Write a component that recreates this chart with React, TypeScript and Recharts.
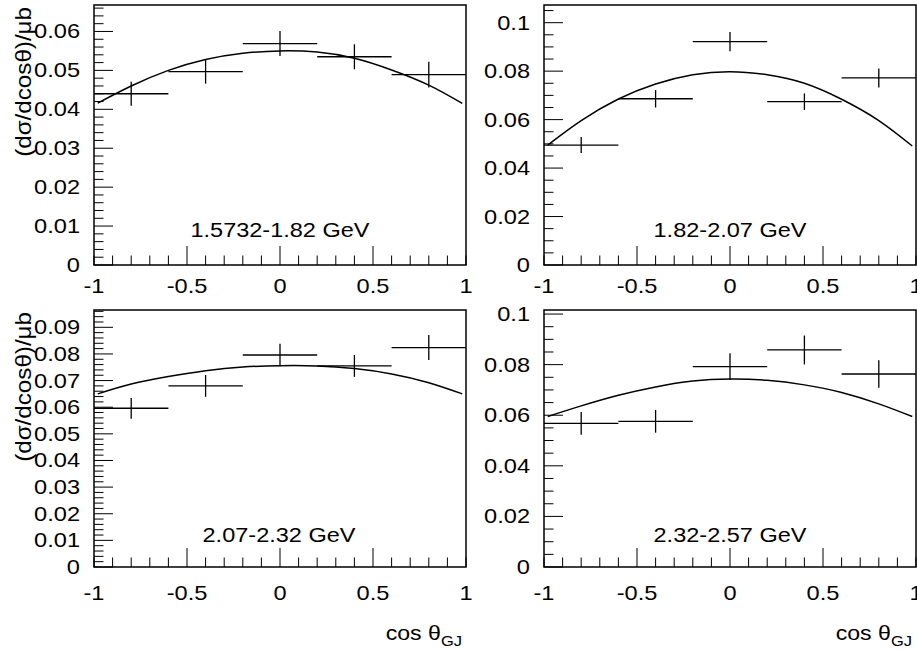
import React from "react";
import { ComposedChart, Scatter, Line, XAxis, YAxis, ErrorBar, ReferenceArea } from "recharts";

const FONT = '"Liberation Sans", Arial, Helvetica, sans-serif';

// bin centres in cos θ_GJ and half bin widths
const binX = [-0.8, -0.4, 0, 0.4, 0.8];
const binHalf = [0.2, 0.2, 0.2, 0.2, 0.2];

// measured dσ/dcosθ per energy bin (μb) and their errors
const sigmaA = [0.044, 0.0497, 0.0569, 0.0535, 0.0489];
const errA = [0.0031, 0.0031, 0.0032, 0.0032, 0.0033];
const sigmaB = [0.0495, 0.0686, 0.0922, 0.0674, 0.0772];
const errB = [0.0033, 0.0036, 0.004, 0.0034, 0.0039];
const sigmaC = [0.0596, 0.068, 0.0796, 0.0755, 0.0824];
const errC = [0.0039, 0.0041, 0.0042, 0.0041, 0.0047];
const sigmaD = [0.0568, 0.0576, 0.0792, 0.0858, 0.0763];
const errD = [0.0045, 0.0045, 0.0053, 0.0057, 0.0054];

const fitX = [-0.98, -0.8, -0.6, -0.4, -0.2, 0, 0.2, 0.4, 0.6, 0.8, 0.98];
const fitA = [0.0416, 0.046, 0.05, 0.0528, 0.0544, 0.055, 0.0547, 0.0531, 0.0501, 0.0462, 0.0415];
const fitB = [0.0495, 0.0596, 0.0685, 0.0747, 0.0785, 0.0798, 0.0785, 0.075, 0.0684, 0.0596, 0.0491];
const fitC = [0.065, 0.0687, 0.0715, 0.0737, 0.0751, 0.0756, 0.0755, 0.0745, 0.0725, 0.0692, 0.065];
const fitD = [0.0595, 0.0637, 0.0679, 0.0712, 0.0735, 0.0743, 0.0738, 0.072, 0.069, 0.0645, 0.0595];

const xMajor = [-1, -0.5, 0, 0.5, 1];
const xMajorLabels = ["-1", "-0.5", "0", "0.5", "1"];

const yMajorA = [0, 0.01, 0.02, 0.03, 0.04, 0.05, 0.06];
const yLabelsA = ["0", "0.01", "0.02", "0.03", "0.04", "0.05", "0.06"];
const yMajorB = [0, 0.02, 0.04, 0.06, 0.08, 0.1];
const yLabelsB = ["0", "0.02", "0.04", "0.06", "0.08", "0.1"];
const yMajorC = [0, 0.01, 0.02, 0.03, 0.04, 0.05, 0.06, 0.07, 0.08, 0.09];
const yLabelsC = ["0", "0.01", "0.02", "0.03", "0.04", "0.05", "0.06", "0.07", "0.08", "0.09"];

const binLabels = ["1.5732-1.82 GeV", "1.82-2.07 GeV", "2.07-2.32 GeV", "2.32-2.57 GeV"];

function steps(step: number, max: number) {
  const out: number[] = [];
  for (let i = 0; i * step <= max + 1e-9; i++) out.push(Math.round(i * step * 1e6) / 1e6);
  return out;
}

function pts(sigma: number[], err: number[]) {
  return binX.map((x, i) => ({ x, y: sigma[i], ex: binHalf[i], ey: err[i] }));
}

function curve(vals: number[]) {
  return fitX.map((x, i) => ({ x, y: vals[i] }));
}

function labelFor(v: number, majors: number[], labels: string[]) {
  const i = majors.findIndex((m) => Math.abs(m - v) < 1e-7);
  return i < 0 ? null : labels[i];
}

function Txt({ x, y, size, anchor, sx = 1.18, rotate = false, children }: any) {
  return (
    <text
      transform={`translate(${x},${y})${rotate ? " rotate(-90)" : ""} scale(${sx},1)`}
      textAnchor={anchor}
      fontSize={size}
      fontFamily={FONT}
      fill="#000"
    >
      {children}
    </text>
  );
}

function Panel({ left, top, width, height, right, plotTop, axisH, yMax, yMajor, yLabels, minorStep, data, fit, labelDy }: any) {
  const xTicks = steps(0.1, 2).map((v) => Math.round((v - 1) * 10) / 10);
  const yTicks = steps(minorStep, yMax);

  const XTick = (p: any) => {
    const { x, y, payload } = p;
    const lab = labelFor(payload.value, xMajor, xMajorLabels);
    const len = lab !== null && payload.value > -1 && payload.value < 1 ? 19 : 9.5;
    return (
      <g>
        <line x1={x} y1={y} x2={x} y2={y - len} stroke="#000" strokeWidth={1} />
        {lab !== null && <Txt x={x} y={y + labelDy} size={20} anchor="middle">{lab}</Txt>}
      </g>
    );
  };

  const YTick = (p: any) => {
    const { x, y, payload } = p;
    const lab = labelFor(payload.value, yMajor, yLabels);
    const len = lab !== null ? 19 : 9.5;
    return (
      <g>
        <line x1={x} y1={y} x2={x + len} y2={y} stroke="#000" strokeWidth={1} />
        {lab !== null && <Txt x={x - 14} y={y + 7} size={20} anchor="end">{lab}</Txt>}
      </g>
    );
  };

  return (
    <div style={{ position: "absolute", left, top }}>
      <ComposedChart width={width} height={height} margin={{ left: 0, right, top: plotTop, bottom: 0 }}>
        <XAxis
          type="number"
          dataKey="x"
          domain={[-1, 1]}
          allowDataOverflow
          ticks={xTicks}
          interval={0}
          tick={XTick}
          tickLine={false}
          axisLine={false}
          tickSize={0}
          tickMargin={0}
          height={axisH}
        />
        <YAxis
          type="number"
          dataKey="y"
          domain={[0, yMax]}
          allowDataOverflow
          ticks={yTicks}
          interval={0}
          tick={YTick}
          tickLine={false}
          axisLine={false}
          tickSize={0}
          tickMargin={0}
          width={94}
        />
        <Line
          data={fit}
          dataKey="y"
          type="natural"
          dot={false}
          stroke="#000"
          strokeWidth={1.5}
          isAnimationActive={false}
        />
        <Scatter data={data} dataKey="y" shape={() => <g />} isAnimationActive={false}>
          <ErrorBar dataKey="ey" direction="y" width={0} stroke="#000" strokeWidth={1.3} isAnimationActive={false} />
          <ErrorBar dataKey="ex" direction="x" width={0} stroke="#000" strokeWidth={1.3} isAnimationActive={false} />
        </Scatter>
        <ReferenceArea x1={-1} x2={1} y1={0} y2={yMax} fill="none" stroke="#000" strokeWidth={1.5} fillOpacity={0} />
      </ComposedChart>
    </div>
  );
}

function YTitle({ x, y }: { x: number; y: number }) {
  return (
    <Txt x={x} y={y} size={22} anchor="end" sx={1.1} rotate>
      (dσ/dcosθ)/μb
    </Txt>
  );
}

function XTitle({ x, y }: { x: number; y: number }) {
  return (
    <Txt x={x} y={y} size={21} anchor="end" sx={1.1}>
      cos θ<tspan dy={6} fontSize={15}>GJ</tspan>
    </Txt>
  );
}

export default function App() {
  return (
    <div style={{ position: "absolute", left: 0, top: 0, width: 917, height: 650, background: "#fff", overflow: "hidden" }}>
      <Panel
        left={0} top={0} width={480} height={300} right={14} plotTop={5} axisH={35}
        yMax={0.0668} yMajor={yMajorA} yLabels={yLabelsA} minorStep={0.002}
        data={pts(sigmaA, errA)} fit={curve(fitA)} labelDy={28}
      />
      <Panel
        left={450} top={0} width={467} height={300} right={1} plotTop={5} axisH={35}
        yMax={0.1073} yMajor={yMajorB} yLabels={yLabelsB} minorStep={0.005}
        data={pts(sigmaB, errB)} fit={curve(fitB)} labelDy={28}
      />
      <Panel
        left={0} top={300} width={480} height={310} right={14} plotTop={10} axisH={43}
        yMax={0.0965} yMajor={yMajorC} yLabels={yLabelsC} minorStep={0.002}
        data={pts(sigmaC, errC)} fit={curve(fitC)} labelDy={33}
      />
      <Panel
        left={450} top={300} width={467} height={310} right={1} plotTop={10} axisH={43}
        yMax={0.1016} yMajor={yMajorB} yLabels={yLabelsB} minorStep={0.005}
        data={pts(sigmaD, errD)} fit={curve(fitD)} labelDy={33}
      />
      <svg width={917} height={650} style={{ position: "absolute", left: 0, top: 0, pointerEvents: "none" }}>
        <Txt x={280} y={237} size={21} anchor="middle" sx={1.12}>{binLabels[0]}</Txt>
        <Txt x={730} y={237} size={21} anchor="middle" sx={1.12}>{binLabels[1]}</Txt>
        <Txt x={279} y={542} size={21} anchor="middle" sx={1.12}>{binLabels[2]}</Txt>
        <Txt x={730} y={542} size={21} anchor="middle" sx={1.12}>{binLabels[3]}</Txt>
        <YTitle x={31} y={7} />
        <YTitle x={31} y={312} />
        <XTitle x={912} y={640} />
        <XTitle x={462} y={640} />
      </svg>
    </div>
  );
}
